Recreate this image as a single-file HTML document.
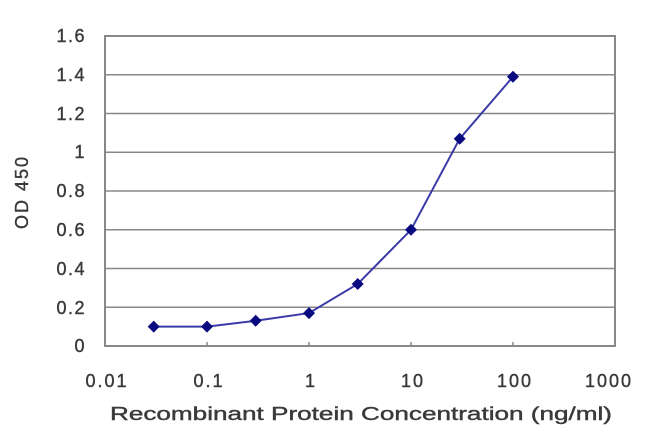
<!DOCTYPE html>
<html><head><style>body{margin:0;background:#fff}svg{display:block}</style></head><body>
<svg width="650" height="432" xmlns="http://www.w3.org/2000/svg" font-family="Liberation Sans, sans-serif" fill="#3a3a3a">
<rect x="105" y="36" width="510" height="310" fill="#fff" stroke="#888" stroke-width="2"/>
<g stroke="#888" stroke-width="1.5">
<line x1="105" x2="615" y1="74.75" y2="74.75"/>
<line x1="105" x2="615" y1="113.5" y2="113.5"/>
<line x1="105" x2="615" y1="152.25" y2="152.25"/>
<line x1="105" x2="615" y1="191" y2="191"/>
<line x1="105" x2="615" y1="229.75" y2="229.75"/>
<line x1="105" x2="615" y1="268.5" y2="268.5"/>
<line x1="105" x2="615" y1="307.25" y2="307.25"/>
<line x1="207" x2="207" y1="342" y2="346"/>
<line x1="309" x2="309" y1="342" y2="346"/>
<line x1="411" x2="411" y1="342" y2="346"/>
<line x1="513" x2="513" y1="342" y2="346"/>
</g>
<g font-size="18" text-anchor="end" letter-spacing="1.5" stroke="#3a3a3a" stroke-width="0.4">
<text x="86" y="42">1.6</text><text x="86" y="81">1.4</text><text x="86" y="120">1.2</text>
<text x="86" y="158">1</text><text x="86" y="197">0.8</text><text x="86" y="236">0.6</text>
<text x="86" y="275">0.4</text><text x="86" y="314">0.2</text><text x="86" y="352">0</text>
</g>
<g font-size="18" text-anchor="middle" letter-spacing="2" stroke="#3a3a3a" stroke-width="0.4">
<text x="107" y="387">0.01</text><text x="209" y="387">0.1</text><text x="311" y="387">1</text>
<text x="413" y="387">10</text><text x="515" y="387">100</text><text x="609" y="387">1000</text>
<text x="110" y="420" text-anchor="start" textLength="502" lengthAdjust="spacingAndGlyphs" letter-spacing="0">Recombinant Protein Concentration (ng/ml)</text>
<text transform="translate(28,192) rotate(-90)" letter-spacing="2">OD 450</text>
</g>
<polyline fill="none" stroke="#3a3aa8" stroke-width="2" points="153.7,326.6 207,326.6 255.7,320.8 309,313.1 357.7,284 411,229.8 459.7,138.7 513,76.7"/>
<g fill="#0a0a80">
<path d="M153.7,320.6l6,6l-6,6l-6,-6z"/><path d="M207,320.6l6,6l-6,6l-6,-6z"/>
<path d="M255.7,314.8l6,6l-6,6l-6,-6z"/><path d="M309,307.1l6,6l-6,6l-6,-6z"/>
<path d="M357.7,278l6,6l-6,6l-6,-6z"/><path d="M411,223.8l6,6l-6,6l-6,-6z"/>
<path d="M459.7,132.7l6,6l-6,6l-6,-6z"/><path d="M513,70.7l6,6l-6,6l-6,-6z"/>
</g>
</svg>
</body></html>
